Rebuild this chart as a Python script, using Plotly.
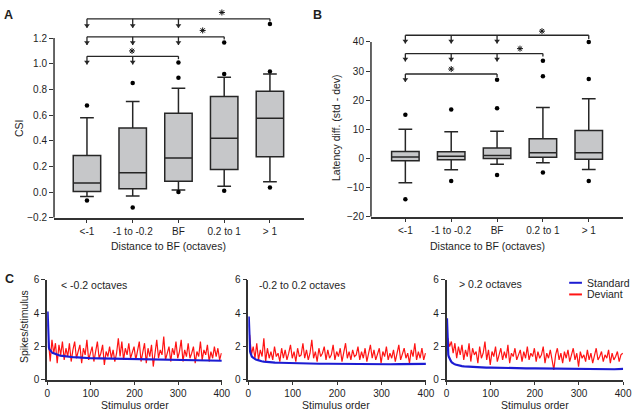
import plotly.graph_objects as go

W, H = 640, 416
def px(x): return x / W
def py(y): return 1 - y / H

FONT = "Arial, Liberation Sans, sans-serif"
TXT = "#1e1e1e"
AXC = "#333333"

# ---------------- data ----------------
categories = ["<-1", "-1 to -0.2", "BF", "0.2 to 1", "> 1"]
cat_pos = [0, 1, 2, 3, 4]

csi_q1 = [0.005, 0.025, 0.085, 0.175, 0.275]
csi_median = [0.07, 0.15, 0.265, 0.42, 0.575]
csi_q3 = [0.285, 0.50, 0.615, 0.745, 0.785]
csi_low = [-0.035, -0.03, 0.015, 0.045, 0.08]
csi_high = [0.58, 0.705, 0.81, 0.895, 0.92]
csi_outliers = [[0.675, -0.065], [0.85, -0.12], [0.89, 1.01, 0.0],
                [0.92, 1.165, 0.01], [0.94, 1.31, 0.035]]

lat_q1 = [-0.8, -0.4, 0.0, 0.4, -0.3]
lat_median = [0.5, 0.8, 1.0, 2.0, 2.0]
lat_q3 = [2.4, 2.3, 3.6, 6.8, 9.6]
lat_low = [-8.3, -3.9, -2.0, -1.5, -3.8]
lat_high = [10.0, 9.2, 9.3, 17.5, 20.5]
lat_outliers = [[15, -14], [16.8, -7.7], [17.2, 27, -5.7],
                [28.2, 33.5, -4.8], [27.3, 40, -7.7]]

stim_dev = list(range(3, 400, 4))
dev_low = [2.3, 1.1, 2.4, 1.6, 2.2, 1.0, 2.1, 1.5, 2.3, 1.2,
           1.9, 1.4, 2.2, 1.1, 1.8, 2.3, 1.3, 1.7, 2.1, 1.0,
           1.9, 1.5, 2.4, 1.2, 1.7, 2.0, 1.1, 1.8, 2.3, 1.3,
           1.6, 2.1, 0.9, 1.7, 1.4, 2.0, 1.3, 1.8, 1.1, 1.6,
           2.5, 1.4, 2.3, 1.2, 1.9, 1.5, 2.2, 1.3, 1.7, 2.0,
           1.2, 1.8, 2.3, 1.1, 1.6, 2.2, 1.0, 1.9, 1.4, 2.1,
           0.8, 1.7, 2.4, 1.3, 1.8, 1.5, 2.6, 1.2, 1.7, 2.0,
           1.1, 1.9, 1.5, 2.3, 1.3, 1.7, 2.4, 1.1, 1.8, 1.4,
           2.2, 1.3, 1.6, 2.0, 1.0, 1.7, 1.4, 2.3, 1.2, 1.8,
           1.5, 2.1, 1.1, 1.7, 1.3, 2.0, 1.4, 1.9, 1.2, 1.6]
dev_mid = [2.7, 1.5, 2.0, 1.3, 2.2, 1.2, 1.8, 1.4, 2.5, 1.1,
           1.9, 1.3, 1.7, 1.2, 2.0, 1.4, 1.6, 1.1, 1.9, 1.3,
           1.8, 1.2, 1.6, 2.1, 1.3, 1.7, 1.1, 1.9, 1.4, 1.5,
           2.2, 1.3, 1.8, 1.2, 1.6, 2.4, 1.3, 1.7, 1.1, 1.9,
           1.4, 1.6, 2.0, 1.2, 1.8, 1.3, 1.5, 2.1, 1.2, 1.7,
           1.4, 1.9, 1.1, 1.6, 2.2, 1.3, 1.7, 1.2, 1.8, 1.4,
           1.5, 2.0, 1.2, 1.7, 1.3, 1.9, 1.1, 1.6, 2.1, 1.3,
           1.8, 1.2, 1.5, 1.9, 1.0, 1.7, 1.4, 2.0, 1.2, 1.6,
           1.3, 1.8, 1.1, 1.7, 2.1, 1.2, 1.5, 1.9, 1.3, 1.6,
           1.0, 1.8, 1.4, 2.2, 1.2, 1.7, 1.3, 1.9, 1.2, 1.6]
dev_high = [2.5, 2.0, 2.3, 1.6, 2.2, 1.3, 2.0, 1.5, 2.1, 1.2,
            1.8, 1.4, 2.2, 1.1, 1.9, 1.5, 1.7, 1.0, 2.0, 1.3,
            1.6, 2.3, 1.2, 1.8, 0.9, 1.7, 1.4, 2.0, 1.1, 1.6,
            1.9, 1.2, 1.7, 1.3, 2.1, 1.0, 1.6, 1.4, 1.9, 1.2,
            1.5, 1.8, 1.1, 1.7, 1.3, 2.0, 1.2, 1.6, 1.4, 1.9,
            1.1, 1.7, 1.3, 1.5, 2.0, 1.0, 1.6, 1.3, 1.8, 1.2,
            0.6, 1.5, 1.9, 1.2, 1.6, 1.0, 1.7, 1.3, 1.8, 1.1,
            1.5, 1.9, 1.2, 1.6, 0.8, 1.7, 1.3, 1.5, 1.1, 1.8,
            1.2, 1.6, 1.0, 1.5, 1.9, 1.2, 1.4, 1.7, 1.1, 1.5,
            1.3, 1.8, 1.0, 1.6, 1.2, 1.4, 1.7, 1.1, 1.5, 1.6]

stim_std = [1, 2, 3, 4, 5, 6, 7, 8, 10, 12, 14, 17, 20, 25, 30, 35, 40, 50, 60,
            70, 80, 90, 100, 120, 140, 160, 180, 200, 220, 240, 260, 280, 300,
            320, 340, 360, 380, 400]
std_low = [4.1, 2.6, 2.1, 1.95, 1.85, 1.8, 1.75, 1.72, 1.68, 1.62, 1.6, 1.55,
           1.52, 1.5, 1.45, 1.44, 1.42, 1.38, 1.36, 1.35, 1.32, 1.33, 1.30,
           1.29, 1.28, 1.27, 1.26, 1.26, 1.24, 1.25, 1.22, 1.23, 1.21, 1.2,
           1.19, 1.18, 1.17, 1.15]
std_mid = [3.8, 2.4, 1.9, 1.7, 1.6, 1.5, 1.45, 1.4, 1.35, 1.3, 1.27, 1.22,
           1.2, 1.15, 1.12, 1.1, 1.08, 1.06, 1.04, 1.03, 1.02, 1.01, 1.0,
           0.99, 0.98, 0.97, 0.97, 0.96, 0.96, 0.95, 0.94, 0.95, 0.94, 0.94,
           0.95, 0.94, 0.95, 0.96]
std_high = [3.7, 2.2, 1.7, 1.5, 1.4, 1.32, 1.25, 1.2, 1.12, 1.05, 1.0, 0.96,
            0.92, 0.88, 0.85, 0.83, 0.81, 0.79, 0.77, 0.76, 0.75, 0.74, 0.74,
            0.72, 0.71, 0.7, 0.69, 0.69, 0.68, 0.67, 0.67, 0.66, 0.66, 0.65,
            0.65, 0.64, 0.64, 0.66]

c_titles = ["< -0.2 octaves", "-0.2 to 0.2 octaves", "> 0.2 octaves"]

# ---------------- figure ----------------
fig = go.Figure()
BOXFILL = "#c6c7c9"
BOXLINE = "#262626"

def add_box(q1, med, q3, lo, hi, outs, xa, ya):
    fig.add_trace(go.Box(x=cat_pos, q1=q1, median=med, q3=q3,
                         lowerfence=lo, upperfence=hi, boxpoints=False,
                         width=0.6, whiskerwidth=0.5, fillcolor=BOXFILL,
                         line=dict(color=BOXLINE, width=1.5),
                         xaxis=xa, yaxis=ya, showlegend=False, hoverinfo="skip"))
    ox, oy = [], []
    for i, vals in enumerate(outs):
        for v in vals:
            ox.append(cat_pos[i]); oy.append(v)
    fig.add_trace(go.Scatter(x=ox, y=oy, mode="markers",
                             marker=dict(color="black", size=4.5),
                             xaxis=xa, yaxis=ya, showlegend=False, cliponaxis=False))

add_box(csi_q1, csi_median, csi_q3, csi_low, csi_high, csi_outliers, "x", "y")
add_box(lat_q1, lat_median, lat_q3, lat_low, lat_high, lat_outliers, "x2", "y2")

def add_brackets(levels, ends, arrows, tips, drops, stars, pxunit, xa, ya):
    bx, by, mx, my = [], [], [], []
    for lvl, end, arr, tip, drop in zip(levels, ends, arrows, tips, drops):
        bx += [0, end, None]; by += [lvl, lvl, None]
        for c in arr:
            bx += [c, c, None]; by += [lvl, tip, None]
            mx.append(c); my.append(tip + 2.5 * pxunit)
        bx += [end, end, None]; by += [lvl, drop, None]
    fig.add_trace(go.Scatter(x=bx, y=by, mode="lines",
                             line=dict(color=BOXLINE, width=1.3),
                             xaxis=xa, yaxis=ya, showlegend=False, hoverinfo="skip"))
    fig.add_trace(go.Scatter(x=mx, y=my, mode="markers",
                             marker=dict(symbol="triangle-down", color=BOXLINE, size=5),
                             xaxis=xa, yaxis=ya, showlegend=False, hoverinfo="skip"))
    fig.add_trace(go.Scatter(x=[s[0] for s in stars], y=[s[1] for s in stars],
                             mode="markers",
                             marker=dict(symbol="asterisk-open", size=5, color="#111111",
                                         line=dict(color="#111111", width=1)),
                             xaxis=xa, yaxis=ya, showlegend=False, hoverinfo="skip",
                             cliponaxis=False))

add_brackets([1.35, 1.21, 1.058], [4, 3, 2], [[0, 1, 2], [0, 1, 2], [0, 1]],
             [1.28, 1.147, 0.995], [1.33, 1.19, 1.035],
             [(2.95, 1.40), (2.53, 1.26), (0.985, 1.10)], 1 / 132, "x", "y")
add_brackets([42.3, 36.0, 29.0], [4, 3, 2], [[0, 1, 2], [0, 1, 2], [0]],
             [39.5, 33.3, 26.3], [41.0, 35.0, 28.0],
             [(2.98, 43.7), (2.5, 37.7), (1.0, 30.7)], 1 / 3, "x2", "y2")

# Panel C
c_axes = [("x3", "y3"), ("x4", "y4"), ("x5", "y5")]
devs = [dev_low, dev_mid, dev_high]
stds = [std_low, std_mid, std_high]
RED = "rgb(255,20,20)"
BLUE = "rgb(28,28,210)"
for (xa, ya), dv, sv in zip(c_axes, devs, stds):
    fig.add_trace(go.Scatter(x=stim_dev, y=dv, mode="lines", name="Deviant",
                             line=dict(color=RED, width=1.2),
                             xaxis=xa, yaxis=ya, showlegend=False))
    fig.add_trace(go.Scatter(x=stim_std, y=sv, mode="lines", name="Standard",
                             line=dict(color=BLUE, width=2.2),
                             xaxis=xa, yaxis=ya, showlegend=False))

tickfont = dict(family=FONT, size=10, color=TXT)
common = dict(showgrid=False, zeroline=False, ticks="outside",
              tickwidth=1.2, tickcolor=AXC, linecolor=AXC, linewidth=1.5,
              tickfont=tickfont)

layout = dict(
    width=W, height=H, margin=dict(l=0, r=0, t=0, b=0),
    paper_bgcolor="white", plot_bgcolor="white", showlegend=False,
    xaxis=dict(domain=[px(52), px(307)], range=[-0.72, 4.75], anchor="y", ticklen=4,
               tickvals=cat_pos, ticktext=categories, showline=True, **common),
    yaxis=dict(domain=[py(218), py(4)], range=[-0.2, 1.42], anchor="x", ticklen=4,
               tickvals=[-0.2, 0, 0.2, 0.4, 0.6, 0.8, 1.0, 1.2], tickformat=".1f",
               showline=False, **common),
    xaxis2=dict(domain=[px(375), px(632)], range=[-0.75, 4.75], anchor="y2", ticklen=4,
                tickvals=cat_pos, ticktext=categories, showline=True, **common),
    yaxis2=dict(domain=[py(217), py(19)], range=[-20, 46], anchor="x2", ticklen=4,
                tickvals=[-20, -10, 0, 10, 20, 30, 40], showline=False, **common),
)
cdoms = [(45, 223), (250, 431), (452, 632)]
for i, (a, b) in enumerate(cdoms):
    n = i + 3
    layout[f"xaxis{n}"] = dict(domain=[px(a), px(b)], range=[0, 400], anchor=f"y{n}",
                               ticklen=3, tickvals=[0, 100, 200, 300, 400],
                               showline=True, **common)
    layout[f"yaxis{n}"] = dict(domain=[py(385), py(282)], range=[0, 6], anchor=f"x{n}",
                               ticklen=4, tickvals=[0, 2, 4, 6], showline=True, **common)
fig.update_layout(**layout)

shapes = [
    dict(type="line", xref="paper", yref="y", x0=px(52), x1=px(52), y0=-0.2, y1=1.2,
         line=dict(color=AXC, width=1.5)),
    dict(type="line", xref="paper", yref="y2", x0=px(375), x1=px(375), y0=-20, y1=40,
         line=dict(color=AXC, width=1.5)),
    dict(type="line", xref="paper", yref="paper", x0=px(577), x1=px(590), y0=py(285), y1=py(285),
         line=dict(color=BLUE, width=2)),
    dict(type="line", xref="paper", yref="paper", x0=px(577), x1=px(590), y0=py(297), y1=py(297),
         line=dict(color=RED, width=2)),
]
fig.update_layout(shapes=shapes)

def ann(x, y, text, size=10.5, xanchor="center", angle=0, bold=False, yanchor="middle"):
    return dict(x=px(x), y=py(y), xref="paper", yref="paper", text=(f"<b>{text}</b>" if bold else text),
                showarrow=False, xanchor=xanchor, yanchor=yanchor, textangle=angle,
                font=dict(family=FONT, size=size, color=TXT))

annotations = [
    ann(6, 9, "A", size=12.5, bold=True),
    ann(321, 9, "B", size=12.5, bold=True),
    ann(7, 281, "C", size=12.5, bold=True),
    ann(17, 126, "CSI", angle=-90),
    ann(340, 125, "Latency diff. (std - dev)", angle=-90),
    ann(169, 247, "Distance to BF (octaves)"),
    ann(494, 247, "Distance to BF (octaves)"),
    ann(22, 330, "Spikes/stimulus", angle=-90),
    ann(135, 411, "Stimulus order"),
    ann(339, 411, "Stimulus order"),
    ann(542, 411, "Stimulus order"),
    ann(57, 287, c_titles[0], xanchor="left"),
    ann(259, 287, c_titles[1], xanchor="left"),
    ann(463, 286, c_titles[2], xanchor="left"),
    ann(593, 285, "Standard", xanchor="left"),
    ann(593, 297, "Deviant", xanchor="left"),
]
fig.update_layout(annotations=annotations)

fig.write_html("out.html", config={"displayModeBar": False},
               post_script="document.body.style.margin='0';document.body.style.overflow='hidden';")
